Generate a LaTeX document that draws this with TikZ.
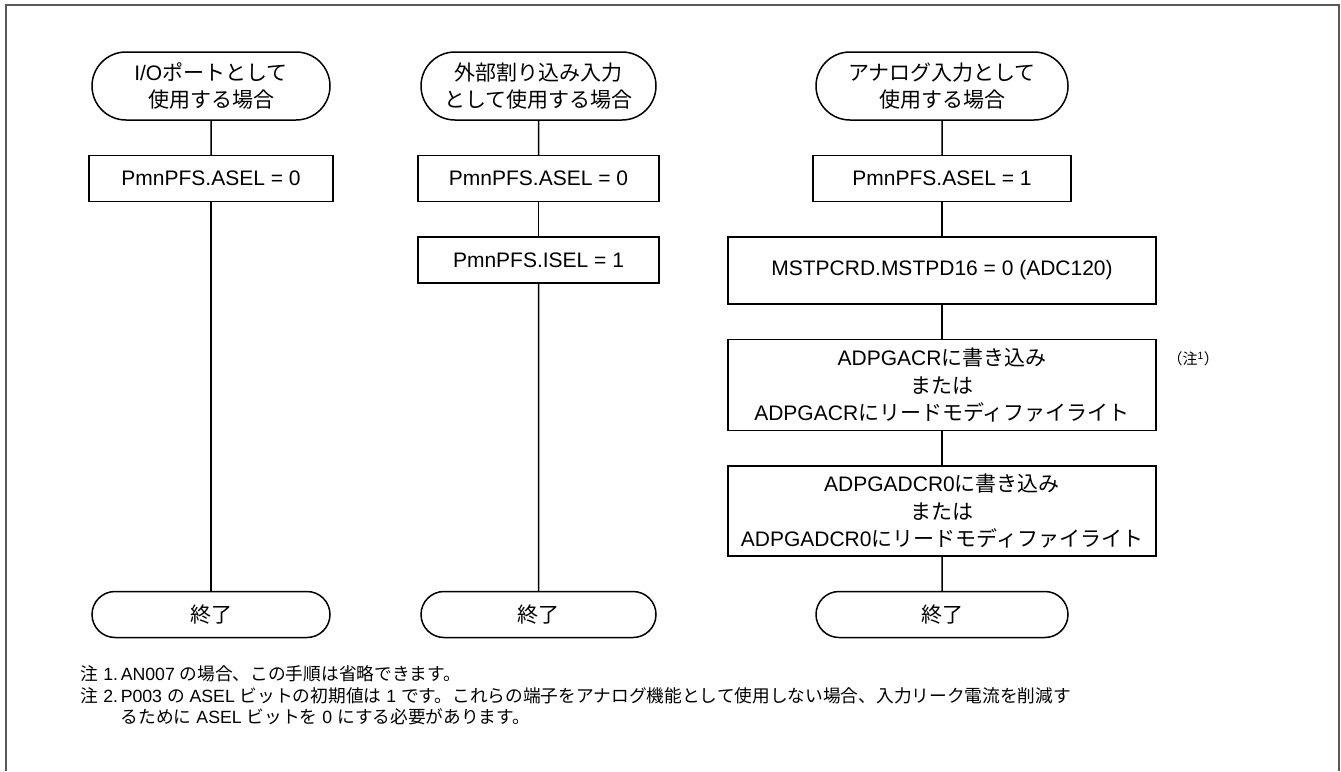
\documentclass[tikz,border=0pt]{standalone}
\usepackage{fontspec}
\setmainfont{Liberation Sans}
\newfontfamily\jpfont{Noto Sans CJK JP}
\newcommand{\jp}[1]{{\jpfont #1}}
\usetikzlibrary{positioning, shapes.misc}

\begin{document}
\begin{tikzpicture}[
    x=1pt, y=-1pt, node distance=34pt, line width=1.5pt,
    termbox/.style={draw, rounded rectangle, minimum height=68pt,
        align=center, inner sep=3pt, font=\fontsize{21}{27.5}\selectfont},
    stepbox/.style={draw, rectangle, minimum height=46pt,
        align=center, inner sep=3pt, font=\fontsize{21}{27.5}\selectfont},
    notetext/.style={anchor=base west, inner sep=0pt,
        font=\fontsize{17.7}{21.5}\selectfont}
  ]
  \useasboundingbox (0,0) rectangle (1341,771);
  \draw[black!65] (6,771) |- (1339,5) -- (1339,771);

  % I/O port
  \node[termbox, minimum width=244pt] (t1) at (211,86)
    {I/O\jp{ポートとして}\\\jp{使用する場合}};
  \node[stepbox, minimum width=244pt, below=of t1] (b1) {PmnPFS.ASEL = 0};

  % external interrupt
  \node[termbox, minimum width=241pt] (t2) at (538.5,86)
    {\jp{外部割り込み入力}\\\jp{として使用する場合}};
  \node[stepbox, minimum width=241pt, below=of t2] (m1) {PmnPFS.ASEL = 0};
  \node[stepbox, minimum width=241pt, below=of m1] (m2) {PmnPFS.ISEL = 1};

  % analog input
  \node[termbox, minimum width=258pt] (t3) at (942,86)
    {\jp{アナログ入力として}\\\jp{使用する場合}};
  \node[stepbox, minimum width=258pt, below=of t3] (r1) {PmnPFS.ASEL = 1};
  \node[stepbox, minimum width=428pt, minimum height=67pt, below=of r1] (r2)
    {MSTPCRD.MSTPD16 = 0 (ADC120)};
  \node[stepbox, minimum width=428pt, minimum height=91pt, below=of r2] (r3)
    {ADPGACR\jp{に書き込み}\\\jp{または}\\ADPGACR\jp{にリードモディファイライト}};
  \node[stepbox, minimum width=428pt, minimum height=90pt, below=of r3] (r4)
    {ADPGADCR0\jp{に書き込み}\\\jp{または}\\ADPGADCR0\jp{にリードモディファイライト}};
  \node[anchor=west, inner sep=0pt, font=\fontsize{15}{17}\selectfont] (fn1)
    at ([xshift=10pt, yshift=-20pt] r3.north east)
    {\jp{（注}\textsuperscript{1}\jp{）}};

  % end
  \node[termbox, minimum width=258pt, minimum height=46pt, below=of r4] (e3) {\jp{終了}};
  \node[termbox, minimum width=244pt, minimum height=46pt] (e1) at (t1 |- e3) {\jp{終了}};
  \node[termbox, minimum width=241pt, minimum height=46pt] (e2) at (t2 |- e3) {\jp{終了}};

  \draw (t1) -- (b1);
  \draw (b1) -- (e1);
  \draw (t2) -- (m1);
  \draw (m1) -- (m2);
  \draw (m2) -- (e2);
  \draw (t3) -- (r1);
  \draw (r1) -- (r2);
  \draw (r2) -- (r3);
  \draw (r3) -- (r4);
  \draw (r4) -- (e3);

  % notes
  \node[notetext] (n1) at (80,680) {\jp{注} 1.};
  \node[notetext] (n1txt) at (120,680) {AN007 \jp{の場合、この手順は省略できます。}};
  \node[notetext] (n2) at (80,702) {\jp{注} 2.};
  \node[notetext] (n2txt) at (120,702)
    {P003 \jp{の} ASEL \jp{ビットの初期値は} 1 \jp{です。これらの端子をアナログ機能として使用しない場合、入力リーク電流を削減す}};
  \node[notetext] (n2cont) at (120,723)
    {\jp{るために} ASEL \jp{ビットを} 0 \jp{にする必要があります。}};
\end{tikzpicture}
\end{document}
